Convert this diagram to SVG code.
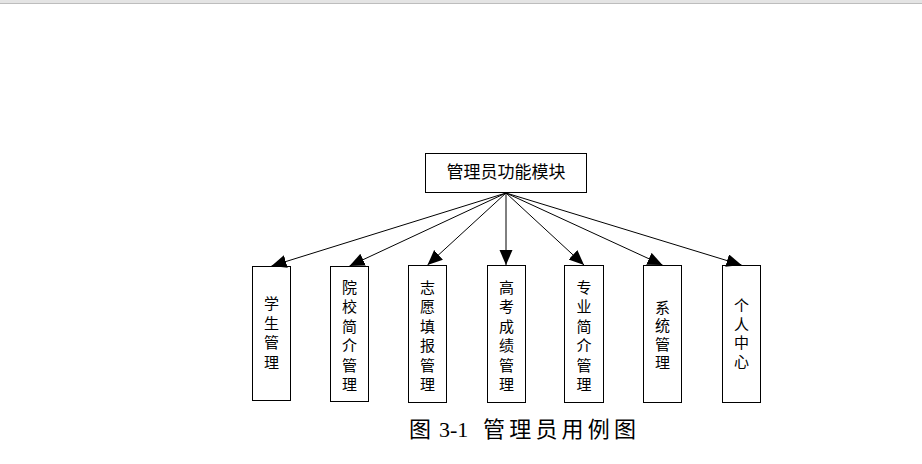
<svg xmlns="http://www.w3.org/2000/svg" width="922" height="464" viewBox="0 0 922 464">
<style>
.box{fill:#fff;stroke:#000;stroke-width:1}
.lbl{font-family:"Liberation Sans","Noto Sans CJK SC",sans-serif;font-size:15px;fill:#000;text-anchor:middle}
.conn line{stroke:#000;stroke-width:1;marker-end:url(#ah)}
.cap{font-family:"Liberation Serif","Noto Sans CJK SC",serif;font-size:22px;fill:#000}
</style>
<defs>
<marker id="ah" markerUnits="userSpaceOnUse" markerWidth="16" markerHeight="14" refX="15" refY="6.5" orient="auto">
<path d="M0,0 L15,6.5 L0,13 z" fill="#000"/>
</marker>
</defs>
<rect x="0" y="0" width="922" height="3" fill="#e4e4e4"/>
<rect x="0" y="3" width="922" height="1" fill="#bdbdbd"/>
<g id="root">
<rect class="box" x="425.5" y="153.5" width="161" height="39"/>
<text class="lbl" x="506" y="178" style="font-size:17px">管理员功能模块</text>
</g>
<g id="n1"><rect class="box" x="252.5" y="266.5" width="38" height="134"/>
<text class="lbl" x="271.5"><tspan x="271.5" y="309">学</tspan><tspan x="271.5" y="328.5">生</tspan><tspan x="271.5" y="348">管</tspan><tspan x="271.5" y="367.5">理</tspan></text></g>
<g id="n2"><rect class="box" x="330.5" y="266.5" width="38" height="135"/>
<text class="lbl"><tspan x="349.5" y="292.5">院</tspan><tspan x="349.5" y="312">校</tspan><tspan x="349.5" y="331.5">简</tspan><tspan x="349.5" y="351">介</tspan><tspan x="349.5" y="370.5">管</tspan><tspan x="349.5" y="390">理</tspan></text></g>
<g id="n3"><rect class="box" x="408.5" y="265.5" width="38" height="137"/>
<text class="lbl"><tspan x="427.5" y="292.5">志</tspan><tspan x="427.5" y="312">愿</tspan><tspan x="427.5" y="331.5">填</tspan><tspan x="427.5" y="351">报</tspan><tspan x="427.5" y="370.5">管</tspan><tspan x="427.5" y="390">理</tspan></text></g>
<g id="n4"><rect class="box" x="487.5" y="265.5" width="38" height="137"/>
<text class="lbl"><tspan x="506.5" y="292.5">高</tspan><tspan x="506.5" y="312">考</tspan><tspan x="506.5" y="331.5">成</tspan><tspan x="506.5" y="351">绩</tspan><tspan x="506.5" y="370.5">管</tspan><tspan x="506.5" y="390">理</tspan></text></g>
<g id="n5"><rect class="box" x="564.5" y="265.5" width="39" height="137"/>
<text class="lbl"><tspan x="584" y="292.5">专</tspan><tspan x="584" y="312">业</tspan><tspan x="584" y="331.5">简</tspan><tspan x="584" y="351">介</tspan><tspan x="584" y="370.5">管</tspan><tspan x="584" y="390">理</tspan></text></g>
<g id="n6"><rect class="box" x="643.5" y="265.5" width="38" height="137"/>
<text class="lbl"><tspan x="662.5" y="312.5">系</tspan><tspan x="662.5" y="331">统</tspan><tspan x="662.5" y="349.5">管</tspan><tspan x="662.5" y="368">理</tspan></text></g>
<g id="n7"><rect class="box" x="722.5" y="265.5" width="38" height="137"/>
<text class="lbl"><tspan x="741.5" y="311">个</tspan><tspan x="741.5" y="329.5">人</tspan><tspan x="741.5" y="348">中</tspan><tspan x="741.5" y="366.5">心</tspan></text></g>
<g id="connectors" class="conn">
<line x1="506" y1="193" x2="271.5" y2="266"/>
<line x1="506" y1="193" x2="349.5" y2="266"/>
<line x1="506" y1="193" x2="427.5" y2="265"/>
<line x1="506" y1="193" x2="506" y2="265"/>
<line x1="506" y1="193" x2="584" y2="265"/>
<line x1="506" y1="193" x2="662.5" y2="265"/>
<line x1="506" y1="193" x2="741.5" y2="265"/>
</g>
<text class="cap" y="437"><tspan x="409">图</tspan><tspan x="439">3-1</tspan><tspan x="483" letter-spacing="4.2">管理员用例图</tspan></text>
</svg>
